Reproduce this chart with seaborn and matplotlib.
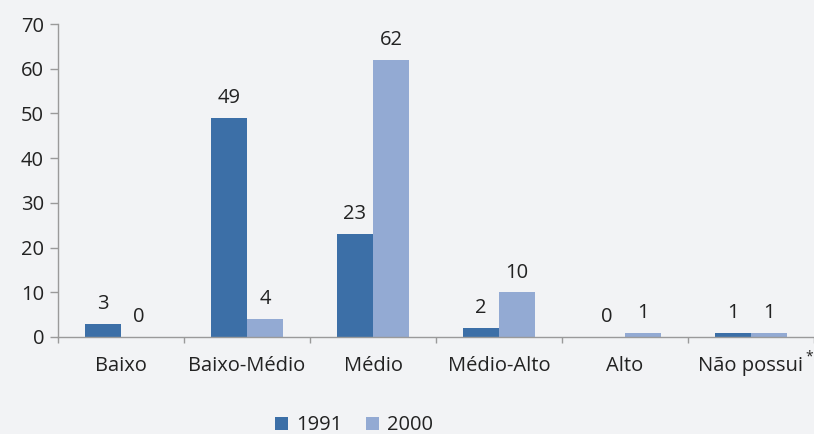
import numpy as np
import pandas as pd
import matplotlib
matplotlib.use("Agg")
import matplotlib.pyplot as plt
import seaborn as sns

categories = ["Baixo", "Baixo-Médio", "Médio", "Médio-Alto", "Alto", "Não possui"]
years = ["1991", "2000"]
values_1991 = [3, 49, 23, 2, 0, 1]
values_2000 = [0, 4, 62, 10, 1, 1]

df = pd.DataFrame({
    "categoria": categories * 2,
    "ano": [years[0]] * len(categories) + [years[1]] * len(categories),
    "valor": values_1991 + values_2000,
})

sns.set_theme(style="white")
plt.rcParams["font.family"] = ["Open Sans", "DejaVu Sans"]
bg = "#f2f3f5"
txt = "#222222"
fs = 14.5
palette = {"1991": "#3c6fa7", "2000": "#93aad3"}

fig = plt.figure(figsize=(8.14, 4.34), dpi=100, facecolor=bg)
ax = fig.add_axes([58 / 814, 97 / 434, 1 - 58 / 814, 313 / 434])
ax.set_facecolor(bg)

sns.barplot(data=df, x="categoria", y="valor", hue="ano", palette=palette,
            width=0.57, gap=0, saturation=1, linewidth=0, ax=ax, legend=True)

for cont in ax.containers:
    ax.bar_label(cont, labels=[str(int(v)) for v in cont.datavalues],
                 padding=7, fontsize=fs, color=txt)

ax.set_xlim(-0.5, len(categories) - 0.5)
ax.set_ylim(0, 70)
ax.set_yticks(range(0, 71, 10))
ax.set_xlabel("")
ax.set_ylabel("")

for side in ["top", "right"]:
    ax.spines[side].set_visible(False)
for side in ["left", "bottom"]:
    ax.spines[side].set_color("#9a9a9a")
    ax.spines[side].set_linewidth(1.0)

ax.tick_params(axis="y", length=6, width=1, color="#9a9a9a", labelsize=fs,
               labelcolor=txt, pad=4, direction="out", left=True)
ax.tick_params(axis="x", which="major", length=0, labelsize=fs, labelcolor=txt, pad=14)
ax.set_xticks(np.arange(-0.5, len(categories), 1.0), minor=True)
ax.tick_params(axis="x", which="minor", length=4.5, width=1, color="#9a9a9a",
               direction="out", bottom=True)

# asterisco sobrescrito
ax.annotate("*", xy=(5, 0), xycoords="data", xytext=(42, -17),
            textcoords="offset points", fontsize=10, color=txt, ha="center")

handles, labels = ax.get_legend_handles_labels()
ax.legend_.remove()
fig.legend(handles, labels, loc="lower center", bbox_to_anchor=(0.435, -0.045),
           ncol=2, frameon=False, fontsize=fs, handlelength=0.65, handleheight=0.65,
           handletextpad=0.4, columnspacing=1.2, labelcolor=txt)

fig.savefig("out.png", dpi=100, facecolor=bg)
